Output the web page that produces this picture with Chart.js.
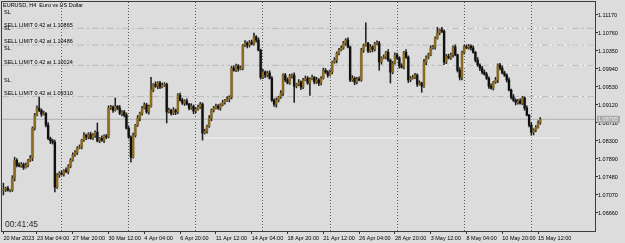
<!DOCTYPE html>
<html>
<head>
<meta charset="utf-8">
<script src="https://cdn.jsdelivr.net/npm/chart.js@4.4.0/dist/chart.umd.min.js"></script>
<style>
  html, body { margin: 0; padding: 0; background: #dcdcdc; overflow: hidden; }
  canvas { display: block; }
</style>
</head>
<body>
<canvas id="chart" width="625" height="243"></canvas>
<script>
// EURUSD H4 candles (bar 0 = 20 Mar 16:00)
const opens = [
  1.0718, 1.0720, 1.0722, 1.0718, 1.0718, 1.0745, 1.0786, 1.0775, 1.0773, 1.0777,
  1.0770, 1.0775, 1.0786, 1.0791, 1.0859, 1.0889, 1.0905, 1.0900, 1.0891, 1.0893,
  1.0866, 1.0836, 1.0830, 1.0827, 1.0725, 1.0752, 1.0757, 1.0754, 1.0763, 1.0761,
  1.0773, 1.0786, 1.0798, 1.0804, 1.0814, 1.0816, 1.0832, 1.0843, 1.0839, 1.0845,
  1.0836, 1.0843, 1.0850, 1.0830, 1.0836, 1.0832, 1.0841, 1.0839, 1.0905, 1.0907,
  1.0900, 1.0909, 1.0905, 1.0893, 1.0896, 1.0889, 1.0859, 1.0839, 1.0793, 1.0843,
  1.0866, 1.0882, 1.0893, 1.0905, 1.0912, 1.0896, 1.0909, 1.0946, 1.0959, 1.0955,
  1.0962, 1.0953, 1.0957, 1.0959, 1.0896, 1.0900, 1.0893, 1.0900, 1.0896, 1.0934,
  1.0923, 1.0916, 1.0921, 1.0914, 1.0905, 1.0909, 1.0898, 1.0902, 1.0907, 1.0914,
  1.0848, 1.0852, 1.0864, 1.0882, 1.0900, 1.0905, 1.0909, 1.0905, 1.0912, 1.0918,
  1.0923, 1.0925, 1.0930, 1.0996, 1.0991, 1.1001, 1.0994, 1.0996, 1.1048, 1.1053,
  1.1048, 1.1055, 1.1051, 1.1067, 1.1060, 1.1037, 1.0975, 1.0987, 1.0980, 1.0985,
  1.0973, 1.0923, 1.0914, 1.0923, 1.0930, 1.0939, 1.0980, 1.0969, 1.0962, 1.0978,
  1.0980, 1.0955, 1.0959, 1.0964, 1.0953, 1.0969, 1.0973, 1.0962, 1.0971, 1.0975,
  1.0964, 1.0969, 1.0962, 1.0973, 1.0991, 1.0987, 1.0980, 1.0987, 1.1010, 1.1014,
  1.1030, 1.1037, 1.1042, 1.1053, 1.1060, 1.1044, 1.0969, 1.0973, 1.0964, 1.0971,
  1.0969, 1.1037, 1.1048, 1.1053, 1.1035, 1.1044, 1.1039, 1.1051, 1.1053, 1.1010,
  1.1019, 1.1021, 1.1032, 1.1014, 1.0987, 1.1007, 1.1026, 1.1019, 1.1001, 1.0998,
  1.1032, 1.1021, 1.0969, 1.0973, 1.0975, 1.0980, 1.0959, 1.0962, 1.0955, 1.1010,
  1.1021, 1.1026, 1.1042, 1.1044, 1.1064, 1.1076, 1.1083, 1.1080, 1.1010, 1.1023,
  1.1019, 1.1026, 1.1044, 1.1026, 1.0991, 1.0975, 1.1032, 1.1044, 1.1042, 1.1046,
  1.1042, 1.1032, 1.1014, 1.1003, 1.0996, 1.0987, 1.0982, 1.0973, 1.0955, 1.0950,
  1.0964, 1.0969, 1.1003, 1.0996, 1.0985, 1.0980, 1.0969, 1.0946, 1.0930, 1.0923,
  1.0918, 1.0921, 1.0916, 1.0928, 1.0905, 1.0889, 1.0866, 1.0850, 1.0855, 1.0861,
  1.0871
];
const highs = [
  1.0734, 1.0725, 1.0727, 1.0720, 1.0751, 1.0793, 1.0790, 1.0780, 1.0781, 1.0780,
  1.0780, 1.0788, 1.0797, 1.0862, 1.0893, 1.0910, 1.0930, 1.0903, 1.0898, 1.0895,
  1.0872, 1.0839, 1.0834, 1.0832, 1.0756, 1.0760, 1.0762, 1.0765, 1.0769, 1.0776,
  1.0790, 1.0803, 1.0808, 1.0817, 1.0821, 1.0834, 1.0849, 1.0846, 1.0849, 1.0850,
  1.0847, 1.0853, 1.0871, 1.0838, 1.0842, 1.0844, 1.0845, 1.0910, 1.0911, 1.0910,
  1.0928, 1.0911, 1.0911, 1.0899, 1.0900, 1.0894, 1.0863, 1.0842, 1.0848, 1.0868,
  1.0888, 1.0896, 1.0909, 1.0917, 1.0916, 1.0912, 1.0975, 1.0961, 1.0965, 1.0965,
  1.0966, 1.0962, 1.0963, 1.0962, 1.0905, 1.0902, 1.0906, 1.0903, 1.0938, 1.0939,
  1.0927, 1.0924, 1.0926, 1.0916, 1.0915, 1.0912, 1.0906, 1.0912, 1.0918, 1.0917,
  1.0857, 1.0866, 1.0888, 1.0903, 1.0909, 1.0914, 1.0913, 1.0915, 1.0923, 1.0925,
  1.0931, 1.0933, 1.1000, 1.1001, 1.1005, 1.1004, 1.1001, 1.1050, 1.1059, 1.1056,
  1.1059, 1.1060, 1.1076, 1.1070, 1.1065, 1.1039, 1.0993, 1.0990, 1.0989, 1.0990,
  1.0977, 1.0926, 1.0928, 1.0932, 1.0945, 1.0983, 1.0984, 1.0974, 1.0982, 1.0983,
  1.0985, 1.0961, 1.0970, 1.0967, 1.0973, 1.0978, 1.0977, 1.0974, 1.0980, 1.0977,
  1.0975, 1.0972, 1.0977, 1.0996, 1.0995, 1.0990, 1.0992, 1.1012, 1.1020, 1.1033,
  1.1041, 1.1047, 1.1057, 1.1063, 1.1065, 1.1046, 1.0979, 1.0976, 1.0975, 1.0976,
  1.1041, 1.1051, 1.1099, 1.1055, 1.1050, 1.1047, 1.1055, 1.1058, 1.1057, 1.1022,
  1.1026, 1.1034, 1.1038, 1.1017, 1.1011, 1.1031, 1.1030, 1.1022, 1.1006, 1.1034,
  1.1038, 1.1024, 1.0977, 1.0980, 1.0984, 1.0983, 1.0967, 1.0964, 1.1016, 1.1024,
  1.1030, 1.1047, 1.1048, 1.1067, 1.1089, 1.1085, 1.1089, 1.1083, 1.1027, 1.1028,
  1.1030, 1.1047, 1.1049, 1.1028, 1.0997, 1.1035, 1.1048, 1.1049, 1.1050, 1.1049,
  1.1047, 1.1034, 1.1020, 1.1006, 1.1000, 1.0992, 1.0986, 1.0976, 1.0960, 1.0966,
  1.0975, 1.1006, 1.1007, 1.1001, 1.0989, 1.0983, 1.0974, 1.0948, 1.0936, 1.0926,
  1.0925, 1.0926, 1.0932, 1.0931, 1.0910, 1.0891, 1.0872, 1.0858, 1.0865, 1.0876,
  1.08835
];
const lows = [
  1.0707, 1.0715, 1.0716, 1.0714, 1.0715, 1.0739, 1.0771, 1.0771, 1.0770, 1.0765,
  1.0768, 1.0771, 1.0783, 1.0785, 1.0855, 1.0887, 1.0897, 1.0886, 1.0889, 1.0862,
  1.0833, 1.0824, 1.0823, 1.0714, 1.0722, 1.0747, 1.0752, 1.0750, 1.0758, 1.0755,
  1.0769, 1.0784, 1.0795, 1.0799, 1.0812, 1.0812, 1.0829, 1.0833, 1.0835, 1.0834,
  1.0833, 1.0838, 1.0828, 1.0826, 1.0829, 1.0826, 1.0835, 1.0837, 1.0902, 1.0895,
  1.0898, 1.0901, 1.0890, 1.0887, 1.0885, 1.0857, 1.0836, 1.0782, 1.0791, 1.0839,
  1.0863, 1.0876, 1.0889, 1.0903, 1.0893, 1.0891, 1.0907, 1.0942, 1.0952, 1.0949,
  1.0949, 1.0951, 1.0954, 1.0871, 1.0894, 1.0889, 1.0890, 1.0890, 1.0892, 1.0921,
  1.0913, 1.0911, 1.0912, 1.0901, 1.0902, 1.0892, 1.0894, 1.0900, 1.0904, 1.0832,
  1.0846, 1.0848, 1.0861, 1.0876, 1.0896, 1.0903, 1.0902, 1.0900, 1.0910, 1.0914,
  1.0920, 1.0919, 1.0926, 1.0989, 1.0988, 1.0989, 1.0992, 1.0992, 1.1045, 1.1042,
  1.1044, 1.1049, 1.1048, 1.1055, 1.1035, 1.0971, 1.0972, 1.0974, 1.0976, 1.0971,
  1.0920, 1.0909, 1.0907, 1.0919, 1.0927, 1.0933, 1.0965, 1.0960, 1.0959, 1.0973,
  1.0918, 1.0951, 1.0956, 1.0947, 1.0949, 1.0967, 1.0959, 1.0934, 1.0969, 1.0960,
  1.0961, 1.0956, 1.0958, 1.0971, 1.0984, 1.0975, 1.0978, 1.0983, 1.1007, 1.1008,
  1.1026, 1.1035, 1.1039, 1.1048, 1.1042, 1.0965, 1.0966, 1.0958, 1.0960, 1.0967,
  1.0966, 1.1032, 1.1046, 1.1031, 1.1032, 1.1033, 1.1035, 1.1049, 1.0991, 1.1005,
  1.1017, 1.1017, 1.1011, 1.0962, 1.0983, 1.1005, 1.1016, 1.0996, 1.0996, 1.0994,
  1.1018, 1.0963, 1.0965, 1.0971, 1.0972, 1.0954, 1.0957, 1.0941, 1.0952, 1.1004,
  1.1017, 1.1024, 1.1039, 1.1039, 1.1062, 1.1072, 1.1077, 1.1004, 1.1006, 1.1017,
  1.1016, 1.1021, 1.1024, 1.0987, 1.0969, 1.0969, 1.1028, 1.1040, 1.1039, 1.1037,
  1.1030, 1.1010, 1.1000, 1.0990, 1.0983, 1.0980, 1.0970, 1.0950, 1.0948, 1.0946,
  1.0961, 1.0963, 1.0992, 1.0983, 1.0977, 1.0964, 1.0944, 1.0926, 1.0920, 1.0912,
  1.0914, 1.0914, 1.0913, 1.0900, 1.0887, 1.0862, 1.0843, 1.0844, 1.0851, 1.0859,
  1.0868
];
const closes = [
  1.0720, 1.0722, 1.0718, 1.0718, 1.0745, 1.0786, 1.0775, 1.0773, 1.0777, 1.0770,
  1.0775, 1.0786, 1.0791, 1.0859, 1.0889, 1.0905, 1.0900, 1.0891, 1.0893, 1.0866,
  1.0836, 1.0830, 1.0827, 1.0725, 1.0752, 1.0757, 1.0754, 1.0763, 1.0761, 1.0773,
  1.0786, 1.0798, 1.0804, 1.0814, 1.0816, 1.0832, 1.0843, 1.0839, 1.0845, 1.0836,
  1.0843, 1.0850, 1.0830, 1.0836, 1.0832, 1.0841, 1.0839, 1.0905, 1.0907, 1.0900,
  1.0909, 1.0905, 1.0893, 1.0896, 1.0889, 1.0859, 1.0839, 1.0793, 1.0843, 1.0866,
  1.0882, 1.0893, 1.0905, 1.0912, 1.0896, 1.0909, 1.0946, 1.0959, 1.0955, 1.0962,
  1.0953, 1.0957, 1.0959, 1.0896, 1.0900, 1.0893, 1.0900, 1.0896, 1.0934, 1.0923,
  1.0916, 1.0921, 1.0914, 1.0905, 1.0909, 1.0898, 1.0902, 1.0907, 1.0914, 1.0848,
  1.0852, 1.0864, 1.0882, 1.0900, 1.0905, 1.0909, 1.0905, 1.0912, 1.0918, 1.0923,
  1.0925, 1.0930, 1.0996, 1.0991, 1.1001, 1.0994, 1.0996, 1.1048, 1.1053, 1.1048,
  1.1055, 1.1051, 1.1067, 1.1060, 1.1037, 1.0975, 1.0987, 1.0980, 1.0985, 1.0973,
  1.0923, 1.0914, 1.0923, 1.0930, 1.0939, 1.0980, 1.0969, 1.0962, 1.0978, 1.0980,
  1.0955, 1.0959, 1.0964, 1.0953, 1.0969, 1.0973, 1.0962, 1.0971, 1.0975, 1.0964,
  1.0969, 1.0962, 1.0973, 1.0991, 1.0987, 1.0980, 1.0987, 1.1010, 1.1014, 1.1030,
  1.1037, 1.1042, 1.1053, 1.1060, 1.1044, 1.0969, 1.0973, 1.0964, 1.0971, 1.0969,
  1.1037, 1.1048, 1.1053, 1.1035, 1.1044, 1.1039, 1.1051, 1.1053, 1.1010, 1.1019,
  1.1021, 1.1032, 1.1014, 1.0987, 1.1007, 1.1026, 1.1019, 1.1001, 1.0998, 1.1032,
  1.1021, 1.0969, 1.0973, 1.0975, 1.0980, 1.0959, 1.0962, 1.0955, 1.1010, 1.1021,
  1.1026, 1.1042, 1.1044, 1.1064, 1.1076, 1.1083, 1.1080, 1.1010, 1.1023, 1.1019,
  1.1026, 1.1044, 1.1026, 1.0991, 1.0975, 1.1032, 1.1044, 1.1042, 1.1046, 1.1042,
  1.1032, 1.1014, 1.1003, 1.0996, 1.0987, 1.0982, 1.0973, 1.0955, 1.0950, 1.0964,
  1.0969, 1.1003, 1.0996, 1.0985, 1.0980, 1.0969, 1.0946, 1.0930, 1.0923, 1.0918,
  1.0921, 1.0916, 1.0928, 1.0905, 1.0889, 1.0866, 1.0850, 1.0855, 1.0861, 1.0871,
  1.08795
];

// time axis labels (bar index where each label sits) and week separators
const dateTickBars = [0, 15, 31, 47, 63, 79, 95, 111, 127, 143, 159, 175, 191, 207, 223, 239];
const dateTickLabels = ['20 Mar 2023', '23 Mar 04:00', '27 Mar 20:00', '30 Mar 12:00', '4 Apr 04:00',
  '6 Apr 20:00', '11 Apr 12:00', '14 Apr 04:00', '18 Apr 20:00', '21 Apr 12:00', '26 Apr 04:00',
  '28 Apr 20:00', '3 May 12:00', '8 May 04:00', '10 May 20:00', '15 May 12:00'];
const weekStartBars = [26, 56, 86, 116, 146, 176, 206, 236];

// price axis labels
const priceTicks = [1.11170, 1.10760, 1.10350, 1.09940, 1.09530, 1.09120, 1.08710, 1.08300,
  1.07890, 1.07480, 1.07070, 1.06660];

// pending orders and other levels
const sellLimitPrices = [1.10865, 1.10486, 1.10024, 1.09310];
const sellLimitLots = 0.42;
const slLabelPrices = [1.11238, 1.10863, 1.10407, 1.09678];
const bidPrice = 1.08795;
const whiteLevels = [1.10865, 1.10486, 1.10024, 1.09310, 1.08368];
const whiteFromBar = [196, 196, 196, 231, 90];
const whiteToBar = [254, 265, 265, 265, 249];
const whiteDashed = [false, true, false, true, false];

const symbolTitle = 'EURUSD, H4  Euro vs US Dollar';
const timerText = '00:41:45';

const X_MIN = -0.63, X_MAX = 264.46;
const Y_MIN = 1.0625, Y_MAX = 1.11466;
const BG = '#dcdcdc';
const FONT = '"Liberation Sans", Arial, sans-serif';

const bull = closes.map((c, i) => c >= opens[i]);
const bodies = closes.map((c, i) => ({ x: i, y: [opens[i], c] }));
const wicks = highs.map((h, i) => ({ x: i, y: [lows[i], h] }));

function hLine(price, from, to, color, dash) {
  return {
    type: 'line',
    data: [{ x: from, y: price }, { x: to, y: price }],
    borderColor: color,
    borderWidth: 1,
    borderDash: dash,
    pointRadius: 0,
    order: 10
  };
}

const datasets = [
  {
    type: 'bar', data: bodies, grouped: false, order: 1,
    backgroundColor: bull.map(b => b ? '#8c6b1c' : '#101010'),
    barThickness: 1.6, minBarLength: 1, borderWidth: 0
  },
  {
    type: 'bar', data: wicks, grouped: false, order: 2,
    backgroundColor: '#222', barThickness: 0.9, borderWidth: 0
  },
  {
    type: 'bar', data: bodies, grouped: false, order: 3,
    backgroundColor: 'rgba(90,90,90,0.2)', barThickness: 2.8, minBarLength: 1, borderWidth: 0
  }
];
sellLimitPrices.forEach(p => datasets.push(hLine(p, X_MIN, X_MAX, '#bababa', [7, 3, 2, 3])));
datasets.push(hLine(bidPrice, X_MIN, X_MAX, '#b0b0b0', []));
whiteLevels.forEach((p, i) => datasets.push(hLine(p, whiteFromBar[i], whiteToBar[i], '#f4f4f4', whiteDashed[i] ? [9, 4] : [])));

const overlay = {
  id: 'overlay',
  beforeDraw(chart) {
    const ctx = chart.ctx;
    ctx.save();
    ctx.fillStyle = BG;
    ctx.fillRect(0, 0, chart.width, chart.height);
    ctx.restore();
  },
  afterDraw(chart) {
    const { ctx, chartArea: a } = chart;
    const y = chart.scales.y;
    ctx.save();
    ctx.strokeStyle = '#3c3c3c';
    ctx.lineWidth = 1;
    ctx.strokeRect(a.left - 0.5, a.top - 0.5, a.right - a.left + 1, a.bottom - a.top + 1);

    ctx.fillStyle = '#000';
    ctx.textBaseline = 'middle';
    ctx.textAlign = 'left';
    ctx.font = '5.5px ' + FONT;
    ctx.fillText(symbolTitle, a.left + 1, a.top + 3.5);
    sellLimitPrices.forEach(p => {
      ctx.fillText('SELL LIMIT ' + sellLimitLots.toFixed(2) + ' at ' + p.toFixed(5), a.left + 2, y.getPixelForValue(p) - 3.3);
    });
    slLabelPrices.forEach(p => ctx.fillText('SL', a.left + 2, y.getPixelForValue(p)));

    // current price tag on the price scale
    const by = y.getPixelForValue(bidPrice);
    ctx.fillStyle = '#a9a9a9';
    ctx.fillRect(a.right + 2, by - 3.5, 23, 7);
    ctx.fillStyle = '#f0f0f0';
    ctx.fillText(bidPrice.toFixed(5), a.right + 3, by);

    ctx.fillStyle = '#2a2a2a';
    ctx.font = '8.5px ' + FONT;
    ctx.fillText(timerText, a.left + 3, a.bottom - 6.5);
    ctx.restore();
  }
};

new Chart(document.getElementById('chart'), {
  data: { datasets },
  options: {
    responsive: false,
    animation: false,
    devicePixelRatio: 1,
    layout: { padding: { top: 2, left: 2, right: 0, bottom: 0 } },
    plugins: { legend: { display: false }, tooltip: { enabled: false } },
    scales: {
      x: {
        type: 'linear', position: 'bottom', min: X_MIN, max: X_MAX, offset: false,
        afterBuildTicks: s => { s.ticks = dateTickBars.map(v => ({ value: v })); },
        afterFit: s => { s.height = 12; s.paddingLeft = 0; s.paddingRight = 0; },
        grid: { drawOnChartArea: false, drawTicks: true, tickLength: 3, color: '#333', offset: false },
        border: { display: false },
        ticks: {
          autoSkip: false, maxRotation: 0, align: 'start', padding: 1, color: '#000',
          font: { family: FONT, size: 5.5 },
          callback: v => dateTickLabels[dateTickBars.indexOf(v)]
        }
      },
      xw: {
        type: 'linear', position: 'bottom', min: X_MIN, max: X_MAX, offset: false,
        afterBuildTicks: s => { s.ticks = weekStartBars.map(v => ({ value: v })); },
        afterFit: s => { s.height = 0; s.paddingLeft = 0; s.paddingRight = 0; },
        grid: { drawOnChartArea: true, drawTicks: false, color: '#5a5a5a', offset: false },
        border: { display: false, dash: [1, 2] },
        ticks: { display: false }
      },
      y: {
        type: 'linear', position: 'right', min: Y_MIN, max: Y_MAX,
        afterBuildTicks: s => { s.ticks = priceTicks.map(v => ({ value: v })); },
        afterFit: s => { s.width = 30; s.paddingTop = 0; s.paddingBottom = 0; },
        grid: { drawOnChartArea: false, drawTicks: true, tickLength: 3, color: '#333' },
        border: { display: false },
        ticks: {
          autoSkip: false, padding: 0, color: '#000',
          font: { family: FONT, size: 5.5 },
          callback: v => v.toFixed(5)
        }
      }
    }
  },
  plugins: [overlay]
});
</script>
</body>
</html>
